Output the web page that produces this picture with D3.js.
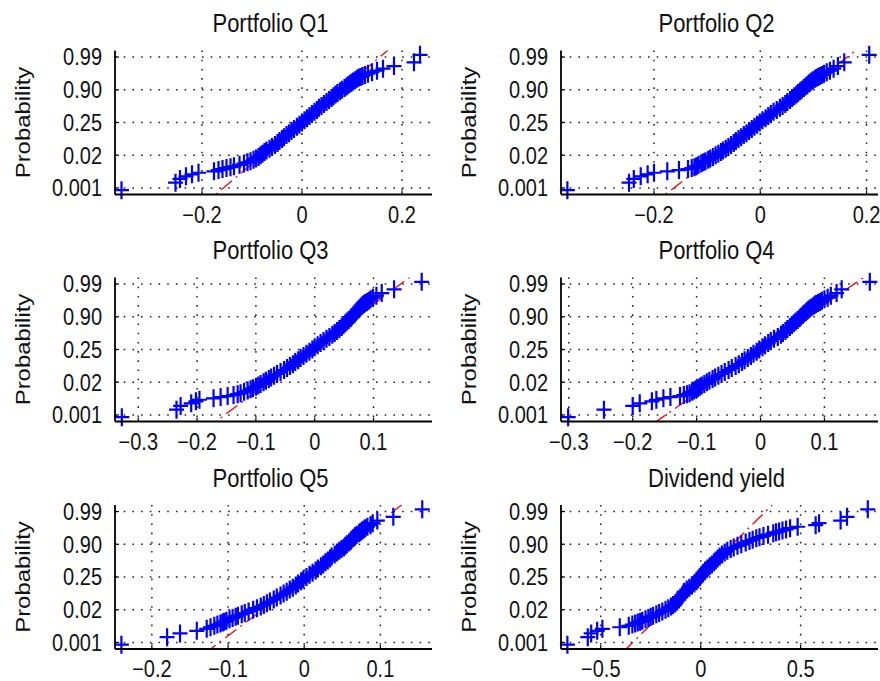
<!DOCTYPE html>
<html>
<head>
<meta charset="utf-8">
<script src="https://cdn.jsdelivr.net/npm/d3@7"></script>
<style>
  body { margin: 0; background: #fff; }
  svg { display: block; }
  text { font-family: "Liberation Sans", Arial, Helvetica, sans-serif; fill: #111; }
</style>
</head>
<body>
<svg id="chart" width="880" height="681"></svg>
<script>
// Normal probability plots of six return series (same sample length).
const sampleSize = 516;

// Order statistics that are drawn (rank within the sorted sample).
const ranks = [1,2,3,4,5,6,7,8,9,10,11,12,14,16,18,20,23,26,30,35,40,46,52,60,68,78,90,102,116,130,146,162,180,198,218,238,258,
  279,299,319,337,355,371,387,401,415,427,439,449,457,465,471,477,482,487,491,494,497,499,501,503,505,506,507,508,509,510,511,512,513,514,515,516];

const seriesNames = ["Portfolio Q1", "Portfolio Q2", "Portfolio Q3", "Portfolio Q4", "Portfolio Q5", "Dividend yield"];

// Sorted sample values at the ranks above.
const q1Returns = [-0.361,-0.253,-0.244,-0.232,-0.220,-0.207,-0.176,-0.167,-0.159,-0.151,-0.143,-0.136,-0.125,-0.116,-0.109,-0.103,-0.097,-0.092,-0.087,-0.083,-0.079,-0.075,-0.071,-0.065,-0.060,-0.054,-0.049,-0.045,-0.040,-0.036,-0.031,-0.026,-0.021,-0.016,-0.010,-0.005,0.000,
  0.005,0.010,0.015,0.020,0.025,0.030,0.034,0.039,0.044,0.049,0.054,0.059,0.063,0.067,0.071,0.076,0.080,0.085,0.089,0.092,0.096,0.099,0.102,0.106,0.110,0.113,0.117,0.121,0.126,0.132,0.140,0.150,0.162,0.184,0.224,0.236];

const q2Returns = [-0.363,-0.247,-0.238,-0.225,-0.212,-0.200,-0.175,-0.153,-0.136,-0.129,-0.124,-0.120,-0.116,-0.111,-0.107,-0.103,-0.098,-0.094,-0.089,-0.084,-0.079,-0.074,-0.070,-0.065,-0.060,-0.055,-0.050,-0.046,-0.041,-0.036,-0.031,-0.026,-0.021,-0.016,-0.011,-0.006,-0.001,
  0.004,0.010,0.015,0.020,0.025,0.031,0.037,0.042,0.047,0.051,0.056,0.060,0.064,0.068,0.071,0.075,0.078,0.082,0.085,0.088,0.091,0.093,0.096,0.099,0.103,0.106,0.109,0.112,0.116,0.120,0.125,0.131,0.138,0.146,0.158,0.205];

const q3Returns = [-0.328,-0.235,-0.228,-0.210,-0.202,-0.196,-0.172,-0.160,-0.148,-0.138,-0.131,-0.126,-0.120,-0.114,-0.109,-0.105,-0.100,-0.096,-0.092,-0.087,-0.083,-0.078,-0.074,-0.069,-0.064,-0.058,-0.052,-0.047,-0.042,-0.037,-0.033,-0.028,-0.024,-0.019,-0.014,-0.009,-0.004,
  0.000,0.005,0.010,0.015,0.020,0.025,0.030,0.034,0.038,0.042,0.046,0.049,0.052,0.055,0.058,0.061,0.063,0.066,0.068,0.070,0.072,0.074,0.076,0.078,0.080,0.082,0.084,0.086,0.089,0.092,0.095,0.099,0.105,0.114,0.135,0.182];

const q4Returns = [-0.301,-0.245,-0.200,-0.189,-0.170,-0.163,-0.152,-0.141,-0.126,-0.120,-0.115,-0.111,-0.107,-0.104,-0.101,-0.098,-0.095,-0.092,-0.088,-0.084,-0.080,-0.075,-0.071,-0.066,-0.061,-0.056,-0.050,-0.045,-0.039,-0.034,-0.029,-0.025,-0.020,-0.015,-0.011,-0.006,-0.002,
  0.003,0.007,0.012,0.016,0.021,0.027,0.032,0.035,0.039,0.042,0.046,0.049,0.052,0.055,0.058,0.061,0.063,0.066,0.068,0.071,0.073,0.075,0.077,0.080,0.083,0.085,0.087,0.090,0.093,0.096,0.100,0.105,0.110,0.119,0.127,0.171];

const q5Returns = [-0.240,-0.180,-0.163,-0.141,-0.128,-0.123,-0.118,-0.114,-0.110,-0.107,-0.105,-0.102,-0.098,-0.094,-0.090,-0.087,-0.082,-0.078,-0.073,-0.067,-0.062,-0.057,-0.053,-0.049,-0.045,-0.040,-0.036,-0.031,-0.027,-0.023,-0.019,-0.015,-0.011,-0.008,-0.004,-0.001,0.003,
  0.007,0.011,0.015,0.018,0.022,0.025,0.028,0.031,0.034,0.036,0.040,0.043,0.046,0.049,0.052,0.054,0.056,0.059,0.061,0.062,0.064,0.066,0.067,0.069,0.072,0.073,0.075,0.076,0.078,0.080,0.083,0.087,0.090,0.096,0.117,0.155];

const dividendYield = [-0.667,-0.565,-0.548,-0.518,-0.492,-0.405,-0.360,-0.342,-0.328,-0.315,-0.303,-0.292,-0.276,-0.262,-0.250,-0.238,-0.222,-0.208,-0.192,-0.176,-0.162,-0.148,-0.138,-0.127,-0.118,-0.109,-0.100,-0.093,-0.087,-0.0825,-0.070,-0.057,-0.044,-0.032,-0.021,-0.012,-0.004,
  0.004,0.012,0.022,0.033,0.045,0.056,0.0665,0.075,0.085,0.095,0.107,0.120,0.133,0.150,0.165,0.184,0.203,0.225,0.244,0.260,0.278,0.294,0.314,0.337,0.363,0.377,0.392,0.409,0.427,0.447,0.485,0.575,0.592,0.700,0.732,0.836];

// Axis limits and x ticks for each panel.
const xLimits = [[-0.374, 0.26], [-0.375, 0.2215], [-0.3396, 0.1995], [-0.3122, 0.1838], [-0.2484, 0.1678], [-0.699, 0.887]];
const xTickValues = [[-0.2, 0, 0.2], [-0.2, 0, 0.2], [-0.3, -0.2, -0.1, 0, 0.1], [-0.3, -0.2, -0.1, 0, 0.1], [-0.2, -0.1, 0, 0.1], [-0.5, 0, 0.5]];

// Probability axis (normal quantile units) and its labels.
const zLimits = [-3.3, 3.3];
const probTickZ = [-3, -1.5, 0, 1.5, 3];
const probTickLabels = ["0.001", "0.02", "0.25", "0.90", "0.99"];

// Inverse standard normal CDF (Acklam's rational approximation).
function invNorm(p) {
  const a = [-3.969683028665376e+01, 2.209460984245205e+02, -2.759285104469687e+02, 1.383577518672690e+02, -3.066479806614716e+01, 2.506628277459239e+00];
  const b = [-5.447609879822406e+01, 1.615858368580409e+02, -1.556989798598866e+02, 6.680131188771972e+01, -1.328068155288572e+01];
  const c = [-7.784894002430293e-03, -3.223964580411365e-01, -2.400758277161838e+00, -2.549732539343734e+00, 4.374664141464968e+00, 2.938163982698783e+00];
  const d = [7.784695709041462e-03, 3.224671290700398e-01, 2.445134137142996e+00, 3.754408661907416e+00];
  const pl = 0.02425;
  let q, r;
  if (p < pl) {
    q = Math.sqrt(-2 * Math.log(p));
    return (((((c[0]*q+c[1])*q+c[2])*q+c[3])*q+c[4])*q+c[5]) / ((((d[0]*q+d[1])*q+d[2])*q+d[3])*q+1);
  } else if (p <= 1 - pl) {
    q = p - 0.5; r = q * q;
    return (((((a[0]*r+a[1])*r+a[2])*r+a[3])*r+a[4])*r+a[5])*q / (((((b[0]*r+b[1])*r+b[2])*r+b[3])*r+b[4])*r+1);
  } else {
    q = Math.sqrt(-2 * Math.log(1 - p));
    return -(((((c[0]*q+c[1])*q+c[2])*q+c[3])*q+c[4])*q+c[5]) / ((((d[0]*q+d[1])*q+d[2])*q+d[3])*q+1);
  }
}

const seriesValues = [q1Returns, q2Returns, q3Returns, q4Returns, q5Returns, dividendYield];

// Subplot grid geometry.
const colLeft = [115, 561];
const rowTop = [50.5, 277.5, 505];
const plotW = 317, plotH = 144;
const vStretch = 1.15;

const svg = d3.select("#chart");

seriesValues.forEach((values, i) => {
  const left = colLeft[i % 2], top = rowTop[Math.floor(i / 2)];
  const right = left + plotW, bottom = top + plotH;
  const x = d3.scaleLinear().domain(xLimits[i]).range([left, right]);
  const y = d3.scaleLinear().domain(zLimits).range([bottom, top]);

  const pts = values.map((v, k) => ({ v, z: invNorm((ranks[k] - 0.5) / sampleSize) }));

  const g = svg.append("g");
  const clipId = "clip" + i;
  g.append("clipPath").attr("id", clipId).append("rect")
    .attr("x", left).attr("y", top).attr("width", plotW).attr("height", plotH);

  // Dotted grid
  g.append("g").selectAll("line").data(xTickValues[i]).join("line")
    .attr("x1", d => x(d)).attr("x2", d => x(d)).attr("y1", top).attr("y2", bottom)
    .attr("stroke", "#222").attr("stroke-width", 1.5).attr("stroke-dasharray", "1.6,7.6");
  g.append("g").selectAll("line").data(probTickZ).join("line")
    .attr("x1", left).attr("x2", right).attr("y1", d => y(d)).attr("y2", d => y(d))
    .attr("stroke", "#222").attr("stroke-width", 1.5).attr("stroke-dasharray", "1.6,7.1");

  // Reference line through the first and third quartiles
  const rankToValue = d3.scaleLinear().domain(ranks).range(values);
  const qx1 = rankToValue(0.25 * sampleSize + 0.5), qx3 = rankToValue(0.75 * sampleSize + 0.5);
  const qz1 = invNorm(0.25), qz3 = invNorm(0.75);
  const slope = (qz3 - qz1) / (qx3 - qx1);
  const lineZ = v => qz1 + slope * (v - qx1);
  const minX = d3.min(values), maxX = d3.max(values);
  const ref = g.append("g").attr("clip-path", `url(#${clipId})`);
  ref.append("line")
    .attr("x1", x(minX)).attr("y1", y(lineZ(minX))).attr("x2", x(maxX)).attr("y2", y(lineZ(maxX)))
    .attr("stroke", "#ff0000").attr("stroke-width", 1.3).attr("stroke-dasharray", "14,5,2,5");
  ref.append("line")
    .attr("x1", x(qx1)).attr("y1", y(qz1)).attr("x2", x(qx3)).attr("y2", y(qz3))
    .attr("stroke", "#ff0000").attr("stroke-width", 1.3);

  // '+' markers
  const cw = 7.5, ch = 9;
  g.append("path")
    .attr("d", pts.map(p => `M${x(p.v) - cw},${y(p.z)}h${2 * cw}M${x(p.v)},${y(p.z) - ch}v${2 * ch}`).join(""))
    .attr("fill", "none").attr("stroke", "#0000ff").attr("stroke-width", 2.2);

  // Axes (left and bottom) with inward ticks
  g.append("line").attr("x1", left).attr("x2", left).attr("y1", top).attr("y2", bottom)
    .attr("stroke", "#000").attr("stroke-width", 1.8);
  g.append("line").attr("x1", left).attr("x2", right).attr("y1", bottom).attr("y2", bottom)
    .attr("stroke", "#000").attr("stroke-width", 1.8);
  g.append("g").selectAll("line").data(probTickZ).join("line")
    .attr("x1", left).attr("x2", left + 4).attr("y1", d => y(d)).attr("y2", d => y(d))
    .attr("stroke", "#000").attr("stroke-width", 1.2);
  g.append("g").selectAll("line").data(xTickValues[i]).join("line")
    .attr("x1", d => x(d)).attr("x2", d => x(d)).attr("y1", bottom).attr("y2", bottom - 4)
    .attr("stroke", "#000").attr("stroke-width", 1.2);

  // Tick labels
  g.append("g").selectAll("text").data(probTickZ).join("text")
    .attr("transform", d => `translate(${left - 13},${y(d)}) scale(1,${vStretch})`)
    .attr("y", 7.2).attr("text-anchor", "end").attr("font-size", 20)
    .text((d, k) => probTickLabels[k]);
  g.append("g").selectAll("text").data(xTickValues[i]).join("text")
    .attr("transform", d => `translate(${x(d)},${bottom + 28}) scale(1,${vStretch})`)
    .attr("text-anchor", "middle").attr("font-size", 20)
    .text(d => d3.format("")(d));

  // Title and y label
  g.append("text")
    .attr("transform", `translate(${(left + right) / 2 - 3},${top - 18.5}) scale(1,${vStretch})`)
    .attr("text-anchor", "middle").attr("font-size", 22)
    .text(seriesNames[i]);
  g.append("text")
    .attr("transform", `translate(${left - 85},${(top + bottom) / 2}) scale(1,${vStretch * 1.04}) rotate(-90)`)
    .attr("text-anchor", "middle").attr("font-size", 20)
    .text("Probability");
});
</script>
</body>
</html>
